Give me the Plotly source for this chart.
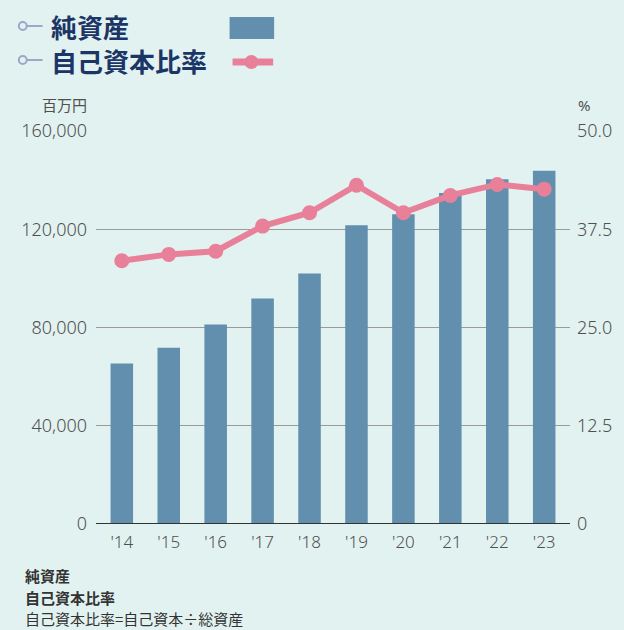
import plotly.graph_objects as go

years = ["'14", "'15", "'16", "'17", "'18", "'19", "'20", "'21", "'22", "'23"]
net_assets = [65300, 71800, 81200, 91800, 102000, 121600, 126100, 134800, 140400, 143800]
equity_ratio = [33.5, 34.3, 34.7, 37.9, 39.6, 43.1, 39.6, 41.8, 43.2, 42.6]

left_ticks = [0, 40000, 80000, 120000, 160000]
left_labels = ["0", "40,000", "80,000", "120,000", "160,000"]
right_ticks = [0, 12.5, 25, 37.5, 50]
right_labels = ["0", "12.5", "25.0", "37.5", "50.0"]

BG = "#e2f2f0"
BAR = "#628fae"
LINE = "#e8809a"
NAVY = "#1b3566"
ICON = "#9ea6c9"
TXT = "#505050"
JP = "Noto Sans CJK JP"
NUM = "Noto Sans, Noto Sans CJK JP"

# plot area in pixels (for placing the decorations)
L, R, T, B = 96, 575, 131, 524


def px(x):
    return (x - L) / (R - L)


def py(y):
    return (B - y) / (B - T)


fig = go.Figure()
fig.add_trace(go.Bar(x=years, y=net_assets, marker_color=BAR, width=0.48,
                     marker_line_width=0, name="純資産"))
fig.add_trace(go.Scatter(x=years, y=equity_ratio, yaxis="y2", mode="lines+markers",
                         line=dict(color=LINE, width=6),
                         marker=dict(color=LINE, size=15), name="自己資本比率"))

shapes = []
annotations = []

# custom legend
for row_y, label in [(26, "純資産"), (60, "自己資本比率")]:
    shapes.append(dict(type="line", xref="paper", yref="paper",
                       x0=px(26), x1=px(42), y0=py(row_y), y1=py(row_y),
                       line=dict(color=ICON, width=2)))
    shapes.append(dict(type="circle", xref="paper", yref="paper",
                       x0=px(18), x1=px(26), y0=py(row_y - 4), y1=py(row_y + 4),
                       line=dict(color=ICON, width=2), fillcolor=BG))
    annotations.append(dict(text=f"<b>{label}</b>", xref="paper", yref="paper",
                            x=px(48), y=py(row_y), xanchor="left", yanchor="middle",
                            showarrow=False, font=dict(family=JP, size=26, color=NAVY)))

shapes.append(dict(type="rect", xref="paper", yref="paper",
                   x0=px(231), x1=px(276), y0=py(39), y1=py(17),
                   fillcolor=BAR, line_width=0))
shapes.append(dict(type="line", xref="paper", yref="paper",
                   x0=px(234), x1=px(275), y0=py(62), y1=py(62),
                   line=dict(color=LINE, width=7)))
shapes.append(dict(type="circle", xref="paper", yref="paper",
                   x0=px(246), x1=px(260), y0=py(69), y1=py(55),
                   fillcolor=LINE, line_width=0))

# zero line
shapes.append(dict(type="line", xref="paper", yref="y", x0=0, x1=1, y0=0, y1=0,
                   line=dict(color="#333333", width=2), layer="above"))

# unit labels
annotations.append(dict(text="百万円", xref="paper", yref="paper", x=px(89), y=py(105),
                        xanchor="right", yanchor="middle", showarrow=False,
                        font=dict(family=JP, size=15, color=TXT)))
annotations.append(dict(text="%", xref="paper", yref="paper", x=px(581), y=py(105),
                        xanchor="left", yanchor="middle", showarrow=False,
                        font=dict(family=NUM, size=15, color=TXT)))

# footer notes
for y, text in [(575, "<b>純資産</b>"), (597, "<b>自己資本比率</b>"),
                (618, "自己資本比率=自己資本÷総資産")]:
    annotations.append(dict(text=text, xref="paper", yref="paper", x=px(22), y=py(y),
                            xanchor="left", yanchor="middle", showarrow=False,
                            font=dict(family=JP, size=15, color="#333333")))

fig.update_layout(
    width=624, height=630,
    margin=dict(l=L, r=624 - R, t=T, b=630 - B),
    paper_bgcolor=BG, plot_bgcolor=BG,
    showlegend=False,
    shapes=shapes, annotations=annotations,
    xaxis=dict(range=[-0.55, 9.55], showgrid=False, showline=False, zeroline=False,
               tickfont=dict(family=NUM, size=17, color=TXT, weight=300),
               ticks="", ticklabelstandoff=6),
    yaxis=dict(range=[0, 160000], tickvals=left_ticks, ticktext=left_labels,
               showgrid=True, gridcolor="#9a9a9a", gridwidth=1, zeroline=False,
               showline=False, ticks="", ticklabelstandoff=8,
               tickfont=dict(family=NUM, size=18, color=TXT, weight=300)),
    yaxis2=dict(range=[0, 50], tickvals=right_ticks, ticktext=right_labels,
                overlaying="y", side="right", showgrid=False, zeroline=False,
                showline=False, ticks="", ticklabelstandoff=6,
                tickfont=dict(family=NUM, size=18, color=TXT, weight=300)),
)

# drop the default page margin so the 624x630 figure fills the window exactly
fig.write_html("out.html", config={"displayModeBar": False},
               post_script="document.body.style.margin='0';document.body.style.overflow='hidden';")
